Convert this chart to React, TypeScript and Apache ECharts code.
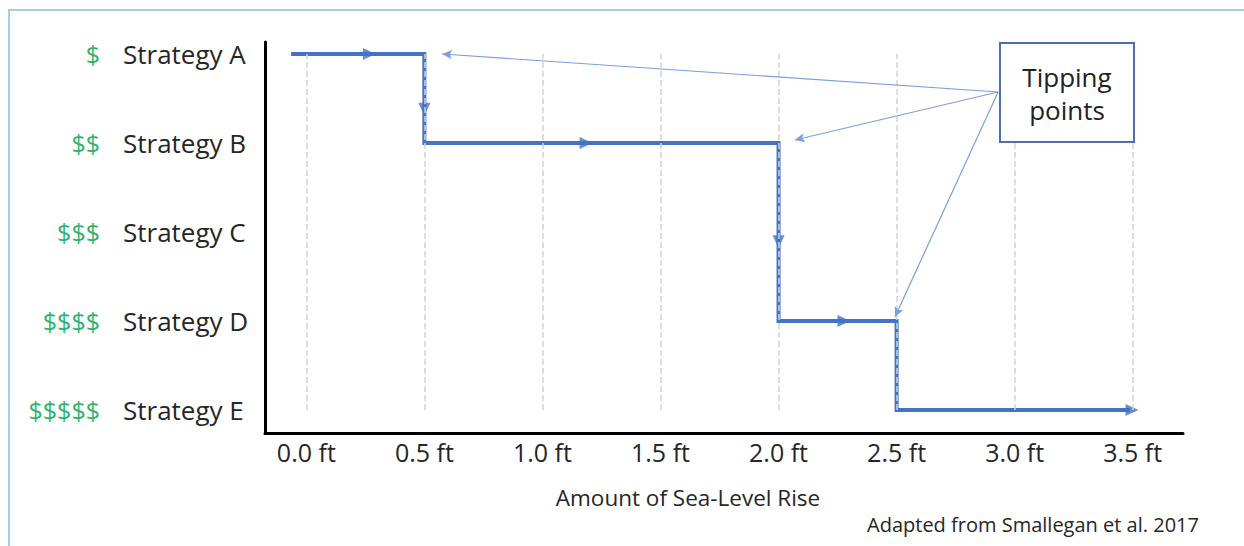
import React, { useEffect, useRef } from "react";
import * as echarts from "echarts";

// y levels: 0 = Strategy E ... 4 = Strategy A
const strategies = ["Strategy E", "Strategy D", "Strategy C", "Strategy B", "Strategy A"];
const costs = ["$$$$$", "$$$$", "$$$", "$$", "$"];
const levelValues = [0, 1, 2, 3, 4];
const xTicks = [0, 0.5, 1.0, 1.5, 2.0, 2.5, 3.0, 3.5];

// adaptation pathway (sea-level rise in ft, strategy level)
const pathX = [-0.056, 0.5, 0.5, 2.0, 2.0, 2.5, 2.5, 3.48];
const pathY = [4, 4, 3, 3, 1, 1, 0, 0];

// direction arrows along the pathway: [x, y, rotation]
const arrowX = [0.267, 0.5, 1.185, 2.0, 2.277, 3.497];
const arrowY = [4, 3.38, 3, 1.89, 1, 0];
const arrowRot = [-90, 180, -90, 180, -90, -90];

// tipping point pointers
const tippingFrom = [2.93, 3.573];
const tippingToX = [0.575, 2.069, 2.493];
const tippingToY = [4.0, 3.034, 1.045];

const FONT = "Open Sans";
const BLUE = "#4472C4";
const Y_MIN = -0.258;
const Y_MAX = 4.135;

export default function App() {
  const ref = useRef<HTMLDivElement>(null);

  useEffect(() => {
    document.body.style.margin = "0";
    const chart = echarts.init(ref.current!, null, { renderer: "svg" });

    const option: any = {
      animation: false,
      backgroundColor: "#ffffff",
      textStyle: { fontFamily: FONT },
      grid: { left: 265, right: 61, top: 42, bottom: 113, outerBoundsMode: "none" },
      xAxis: {
        type: "value",
        min: -0.175,
        max: 3.713,
        axisLine: { show: true, onZero: false, lineStyle: { color: "#000", width: 3 } },
        axisTick: { show: false },
        splitLine: { show: false },
        axisLabel: {
          customValues: xTicks,
          formatter: (v: number) => v.toFixed(1) + " ft",
          fontSize: 25,
          color: "#262626",
          fontFamily: FONT,
          margin: 6,
        },
      },
      yAxis: [
        {
          type: "value",
          min: Y_MIN,
          max: Y_MAX,
          axisLine: { show: true, onZero: false, lineStyle: { color: "#000", width: 3 } },
          axisTick: { show: false },
          splitLine: { show: false },
          axisLabel: {
            customValues: levelValues,
            margin: 142,
            align: "left",
            formatter: (v: number) => strategies[Math.round(v)],
            color: "#262626",
            fontSize: 26,
            fontFamily: FONT,
            padding: [5, 0, 0, 0],
          },
        },
        {
          type: "value",
          position: "left",
          min: Y_MIN,
          max: Y_MAX,
          axisLine: { show: false, onZero: false },
          axisTick: { show: false },
          splitLine: { show: false },
          axisLabel: {
            customValues: levelValues,
            margin: 165,
            align: "right",
            formatter: (v: number) => costs[Math.round(v)],
            color: "#2fb36b",
            fontSize: 25,
            fontFamily: FONT,
            padding: [5, 0, 0, 0],
          },
        },
      ],
      series: [
        {
          type: "line",
          data: [],
          silent: true,
          markLine: {
            silent: true,
            symbol: ["none", "none"],
            label: { show: false },
            lineStyle: { type: "dashed", color: "#d4d4d4", width: 1.5 },
            data: xTicks.map((x) => [{ coord: [x, 0] }, { coord: [x, 4] }]),
          },
        },
        {
          type: "line",
          data: pathX.map((x, i) => [x, pathY[i]]),
          showSymbol: false,
          symbol: "none",
          lineStyle: { color: BLUE, width: 4, cap: "square", join: "miter" },
          z: 3,
        },
        {
          type: "scatter",
          symbol: "triangle",
          symbolSize: [12, 13],
          itemStyle: { color: BLUE },
          data: arrowX.map((x, i) => ({ value: [x, arrowY[i]], symbolRotate: arrowRot[i] })),
          z: 4,
        },
        {
          type: "line",
          data: [],
          silent: true,
          markLine: {
            silent: true,
            symbol: ["none", "arrow"],
            symbolSize: [7, 10],
            label: { show: false },
            lineStyle: { type: "solid", color: "#7b9fdc", width: 1.2 },
            data: tippingToX.map((x, i) => [
              { coord: [tippingFrom[0], tippingFrom[1]] },
              { coord: [x, tippingToY[i]] },
            ]),
          },
        },
      ],
      graphic: [
        {
          type: "rect",
          z: 1,
          shape: { x: 9, y: 10, width: 1300, height: 600 },
          style: { fill: "none", stroke: "#a9cde4", lineWidth: 2 },
        },
        {
          type: "rect",
          z: 10,
          shape: { x: 1000, y: 43, width: 134, height: 99 },
          style: { fill: "#ffffff", stroke: "#4f6fa8", lineWidth: 2 },
        },
        {
          type: "text",
          z: 11,
          x: 1067,
          y: 93,
          style: {
            text: "Tipping\npoints",
            textAlign: "center",
            textVerticalAlign: "middle",
            fontSize: 26,
            lineHeight: 33,
            fontFamily: FONT,
            fill: "#222",
          },
        },
        {
          type: "text",
          z: 11,
          x: 688,
          y: 497,
          style: {
            text: "Amount of Sea-Level Rise",
            textAlign: "center",
            textVerticalAlign: "middle",
            fontSize: 22.5,
            fontFamily: FONT,
            fill: "#262626",
          },
        },
        {
          type: "text",
          z: 11,
          x: 1033,
          y: 524,
          style: {
            text: "Adapted from Smallegan et al. 2017",
            textAlign: "center",
            textVerticalAlign: "middle",
            fontSize: 20,
            fontFamily: FONT,
            fill: "#262626",
          },
        },
      ],
    };

    chart.setOption(option);
    return () => chart.dispose();
  }, []);

  return (
    <div
      ref={ref}
      style={{ position: "fixed", left: 0, top: 0, width: 1244, height: 546 }}
    />
  );
}
